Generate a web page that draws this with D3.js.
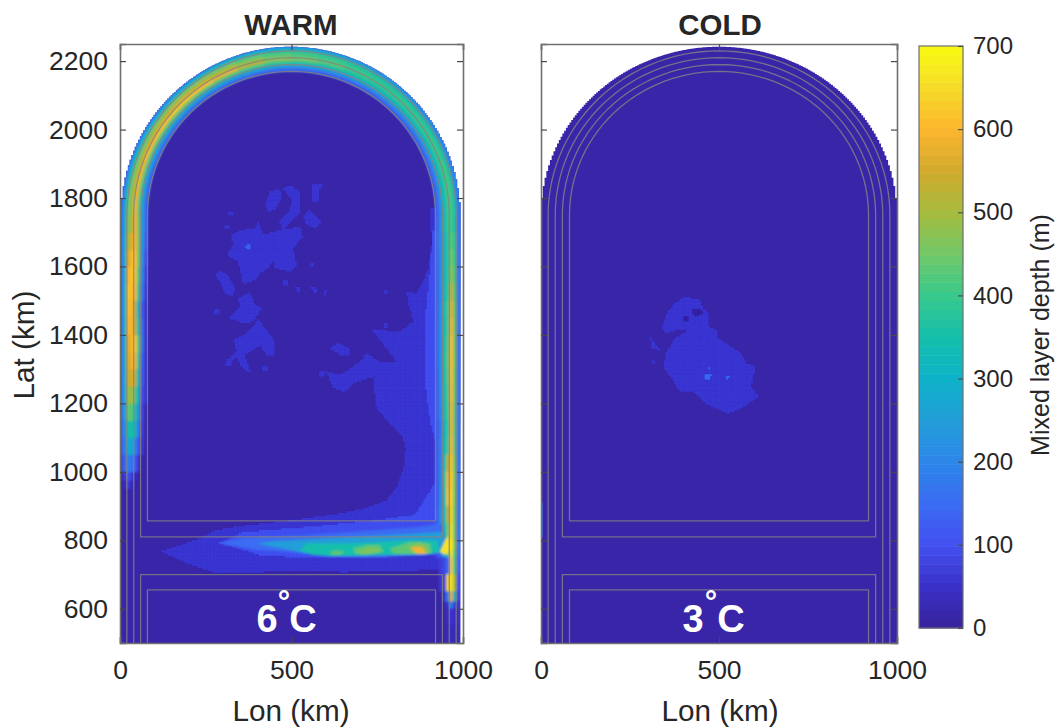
<!DOCTYPE html>
<html><head><meta charset="utf-8">
<style>html,body{margin:0;padding:0;background:#fff}svg{display:block}text{font-family:"Liberation Sans",Arial,sans-serif;fill:#262626}</style>
<script src="https://cdnjs.cloudflare.com/ajax/libs/d3/7.8.5/d3.min.js"></script>
</head><body><svg id="c" width="1057" height="728"></svg>
<script>
// ---------- chart values (km, m) ----------
const panelTitles = ["WARM", "COLD"];
const tempDigits = ["6", "3"];
const lonTicks = [0, 500, 1000];
const latTicks = [600, 800, 1000, 1200, 1400, 1600, 1800, 2000, 2200];
const depthTicks = [0, 100, 200, 300, 400, 500, 600, 700];
const colorStopValues = [0, 50, 100, 150, 200, 250, 300, 350, 400, 450, 500, 550, 600, 650, 700];
const colorStops = ["#38229c", "#3a30c8", "#4350f0", "#3a6cf2", "#2c86ea", "#229ed8", "#0eb2c8", "#14bfac", "#38c98c", "#72c868", "#a6bc3e", "#d2aa2c", "#fdb62e", "#f6dc28", "#f8fa12"];
const backgroundDepth = 12;
const patchDepth = 64;
const blueDepth = 104;
const warmWalls = [3, 992];
const coldWalls = [0, 1000];
const channelOffsets = [0, 10, 20, 30, 40, 50, 60, 70, 80, 90];
const guideRadii = [480, 460, 440, 420];
const guideUpperBottom = [null, null, 810, 857];
const guideLowerTop = [null, null, 700, 655];

const leftLats = [950,975,1000,1050,1100,1150,1200,1250,1300,1350,1400,1450,1500,1550,1600,1650,1700];
const leftRows = [
[0,40,70,30,0,0,0,0,0],
[30,70,110,70,30,0,0,0,0],
[80,150,190,170,120,60,0,0,0],
[110,200,280,280,200,110,60,0,0],
[130,230,350,360,310,170,70,0,0],
[150,270,440,430,360,220,80,0,0],
[150,290,490,500,430,280,100,60,0],
[150,300,540,560,530,310,130,60,0],
[150,310,560,590,590,370,140,60,0],
[150,310,570,600,620,410,180,60,0],
[150,320,600,600,540,340,160,60,0],
[150,320,610,600,530,290,130,60,0],
[150,320,620,610,600,370,190,70,0],
[150,310,600,620,610,410,220,80,0],
[150,310,560,610,610,450,240,100,0],
[150,300,510,570,600,450,250,130,0],
[150,290,460,520,590,450,260,150,0]];
const arcAngles = [180,170,160,150,140,130,120,110,100,90,80,70,60,50,40,30,20,10];
const arcRows = [
[150,290,440,510,590,440,270,150,0],
[150,300,440,510,590,440,270,150,0],
[150,300,440,520,600,440,270,160,0],
[150,300,450,530,610,440,280,160,0],
[150,300,450,540,620,450,280,160,0],
[150,300,450,530,610,440,280,160,0],
[150,300,440,510,580,430,280,160,0],
[150,290,420,470,530,410,270,160,0],
[150,280,400,440,480,390,260,150,0],
[150,270,390,420,460,380,250,150,0],
[150,260,380,410,430,360,240,150,0],
[150,250,370,400,400,350,240,140,0],
[150,240,360,390,390,340,230,140,0],
[150,230,360,390,390,330,230,140,0],
[150,220,360,390,390,330,230,140,0],
[150,210,360,400,390,330,230,140,0],
[150,200,360,410,390,330,230,140,0],
[150,190,360,410,400,330,230,140,0]];
const rightLats = [1750,1700,1650,1600,1550,1500,1450,1400,1350,1300,1250,1200,1150,1100,1050,1000,950,900,850,800,770,750,700,650,620,600,550];
const rightRows = [
[150,180,360,410,400,330,230,140,0],
[150,180,390,430,390,310,220,150,0],
[150,180,400,450,390,310,220,140,0],
[150,180,410,480,390,310,220,140,0],
[150,180,420,540,400,320,220,140,0],
[150,180,440,570,420,330,230,140,0],
[150,180,450,590,420,330,230,140,0],
[150,180,450,610,440,340,230,140,0],
[150,180,450,610,450,350,240,140,0],
[150,180,440,610,440,340,230,130,0],
[150,180,440,600,420,340,220,130,0],
[150,180,420,590,410,330,210,130,0],
[150,180,420,590,400,310,190,120,0],
[150,180,420,600,420,320,200,120,0],
[150,180,440,620,530,350,210,120,0],
[150,180,450,630,590,380,220,120,0],
[150,180,450,640,610,360,220,120,0],
[150,180,440,640,530,340,230,130,0],
[150,180,440,650,460,340,260,170,100],
[150,180,470,680,620,650,670,580,400],
[140,170,420,660,400,300,170,100,60],
[120,140,400,630,150,90,70,0,0],
[100,100,500,660,640,90,60,0,0],
[90,80,300,570,200,60,0,0,0],
[80,60,60,200,60,0,0,0,0],
[70,40,40,60,40,0,0,0,0],
[60,30,30,30,30,0,0,0,0]];

const warmBroad = [[121,767],[175,785],[233,806],[282,830],[379,845],[457,853],[525,862],[650,880],[720,895],[778,917],[810,960],[831,1025],[833,1070],[825,1101],[778,1151],[748,1186],[738,1264],[743,1278],[690,1264],[656,1235],[622,1244],[602,1293],[641,1283],[700,1322],[719,1346],[758,1322],[806,1322],[777,1361],[734,1415],[816,1410],[855,1439],[840,1497],[836,1526],[865,1521],[879,1546],[899,1595],[909,1672],[904,1770],[960,1770],[990,713],[942,713],[800,712],[650,707],[530,712],[408,707],[282,704],[195,733]];
const warmBlue = [[291,792],[358,824],[554,839],[749,859],[860,874],[918,967],[918,1093],[904,1151],[889,1268],[889,1443],[904,1589],[912,1706],[950,1706],[950,760],[749,751],[554,748],[408,757]];
const warmPatches = [
[[424,1779],[437,1818],[466,1828],[471,1799],[452,1765],[432,1760]],
[[476,1828],[495,1838],[525,1818],[525,1760],[510,1740],[471,1706],[466,1731],[495,1760],[500,1794]],
[[562,1838],[593,1840],[578,1818],[578,1791],[562,1789]],
[[536,1750],[554,1765],[588,1731],[568,1711],[539,1726]],
[[325,1692],[350,1706],[393,1711],[403,1731],[418,1692],[466,1706],[525,1716],[534,1687],[505,1653],[515,1604],[495,1585],[452,1595],[452,1624],[432,1595],[413,1585],[398,1565],[359,1546],[345,1614],[311,1634],[330,1663]],
[[277,1580],[296,1585],[316,1575],[335,1536],[330,1512],[306,1522],[291,1556]],
[[316,1449],[350,1483],[345,1507],[379,1526],[393,1488],[413,1478],[389,1439],[359,1434],[335,1444]],
[[330,1385],[369,1405],[403,1444],[427,1415],[452,1380],[452,1342],[427,1342],[408,1371],[379,1351],[364,1342],[384,1283],[350,1312],[340,1337],[306,1308],[311,1327],[340,1351],[335,1371]],
[[510,1541],[529,1536],[520,1522]],
[[554,1541],[578,1536],[568,1519]],
[[593,1531],[607,1531],[597,1515]],
[[612,1361],[636,1376],[670,1361],[670,1342],[641,1342]],
[[555,1610],[567,1610],[567,1598],[555,1598]],
[[476,1558],[490,1558],[490,1545],[476,1545]],
[[275,1475],[288,1475],[288,1462],[275,1462]],
[[315,1760],[328,1760],[328,1748],[315,1748]],
[[305,1720],[318,1720],[318,1708],[305,1708]],
[[415,1308],[428,1308],[428,1296],[415,1296]],
[[310,1325],[325,1325],[325,1312],[310,1312]],
[[590,1300],[600,1290],[590,1275],[580,1285]],
[[770,1435],[782,1435],[782,1422],[770,1422]],
[[768,1530],[780,1530],[780,1519],[768,1519]]];
const warmSpot = [[366,1662],[380,1666],[382,1652],[370,1650]];
const jetValues = [150, 250, 350, 430, 430, 430, 465, 465, 590, 660];
const jetPolygons = [
[[286,792],[358,807],[525,815],[670,824],[866,839],[941,850],[953,763],[895,757],[767,751],[612,751],[525,763],[399,772]],
[[399,791],[457,798],[525,802],[671,810],[865,820],[943,825],[948,766],[894,759],[671,754],[544,760],[476,776]],
[[525,771],[544,791],[671,791],[846,800],[923,800],[933,766],[885,759],[768,757],[622,754],[564,757]],
[[612,766],[632,771],[656,766],[642,757],[617,757]],
[[680,776],[719,786],[758,786],[768,766],[719,757],[685,761]],
[[787,776],[846,796],[904,791],[909,761],[855,759],[797,761]],
[[690,766],[729,779],[753,776],[758,766],[709,761]],
[[836,781],[875,796],[899,781],[899,761],[855,763]],
[[846,779],[880,781],[894,761],[865,761]],
[[933,766],[948,800],[959,815],[959,761],[943,760]]];

const coldPatches = [
[[339,1419],[353,1463],[376,1492],[400,1511],[446,1502],[456,1477],[470,1463],[470,1424],[493,1414],[498,1390],[563,1346],[577,1317],[601,1307],[591,1249],[610,1219],[563,1185],[526,1171],[470,1195],[428,1234],[390,1234],[371,1268],[343,1307],[353,1351],[376,1390],[414,1414],[376,1414],[353,1404]],
[[306,1395],[320,1375],[334,1356],[311,1361]],
[[311,1322],[322,1331],[318,1312]]];
const coldHoles = [[[400,1453],[415,1458],[414,1439],[402,1439]],[[423,1472],[446,1477],[456,1463],[432,1453]]];
const coldSpots = [[[458,1283],[479,1283],[474,1270],[460,1270]],[[467,1307],[479,1305],[472,1297]],[[518,1278],[528,1278],[521,1268]]];
const coldStreak = [[0,809],[6,809],[6,909],[0,909]];

// ---------- layout ----------
const panels = [
  {xr:[120,463], walls:warmWalls, title:panelTitles[0], digit:tempDigits[0], showLat:true, cx:291, digitX:267, ringX:284, cX:303},
  {xr:[541,897], walls:coldWalls, title:panelTitles[1], digit:tempDigits[1], showLat:false, cx:720, digitX:693, ringX:711, cX:731}
];
const yTop = 44, yBot = 643;
const y = d3.scaleLinear().domain([500,2250]).range([yBot,yTop]);
const depthColor = d3.scaleLinear().domain(colorStopValues).range(colorStops).interpolate(d3.interpolateRgb).clamp(true);
const svg = d3.select("#c");
const defs = svg.append("defs");
defs.append("filter").attr("id","soft").attr("x","-10%").attr("y","-10%").attr("width","120%").attr("height","120%")
  .append("feGaussianBlur").attr("stdDeviation",0.85);
defs.append("filter").attr("id","softer").attr("x","-10%").attr("y","-10%").attr("width","120%").attr("height","120%")
  .append("feGaussianBlur").attr("stdDeviation",0.35);

const CENTER = [500,1750];
const deg = Math.PI/180;
const GRID = 5;

panels.forEach((p,pi)=>{
  const x = d3.scaleLinear().domain([0,1000]).range(p.xr);
  const line = d3.line().x(d=>x(d[0])).y(d=>y(d[1]));
  const closed = pts => line(pts)+"Z";
  const g = svg.append("g");

  const clipId = "dom"+pi;
  const [w0,w1] = p.walls, mid=(w0+w1)/2, rx=(w1-w0)/2, ry=492;
  const outline=[[w0,500]];
  d3.range(w0,w1,GRID).forEach(l=>{
    const t=Math.max(0,1-Math.pow((l+GRID/2-mid)/rx,2));
    const top=CENTER[1]+ry*Math.sqrt(t);
    outline.push([l,top],[l+GRID,top]);
  });
  outline.push([w1,500]);
  defs.append("clipPath").attr("id",clipId).append("path").attr("d",closed(outline));
  const raster = g.append("g").attr("clip-path",`url(#${clipId})`);
  raster.append("rect").attr("x",p.xr[0]).attr("y",yTop).attr("width",p.xr[1]-p.xr[0]).attr("height",yBot-yTop).attr("fill",depthColor(backgroundDepth));

  const soft = raster.append("g").attr("filter","url(#softer)");
  const poly = (sel,pts,v)=>{
    const xs=pts.map(d=>d[0]), ys=pts.map(d=>d[1]);
    let d="";
    const lon0=Math.floor(d3.min(xs)/GRID)*GRID, lat0=Math.floor(d3.min(ys)/GRID)*GRID;
    d3.range(lon0,d3.max(xs),GRID).forEach(a=>{
      d3.range(lat0,d3.max(ys),GRID).forEach(b=>{
        if(d3.polygonContains(pts,[a+GRID/2,b+GRID/2]))
          d+=`M${x(a).toFixed(2)},${y(b+GRID).toFixed(2)}H${x(a+GRID).toFixed(2)}V${y(b).toFixed(2)}H${x(a).toFixed(2)}Z`;
      });
    });
    sel.append("path").attr("d",d).attr("fill",depthColor(v)).attr("stroke",depthColor(v)).attr("stroke-width",.15);
  };

  if(pi===0){
    poly(soft,warmBroad,patchDepth);
    warmPatches.forEach(q=>poly(soft,q,patchDepth));
    poly(soft,warmSpot,blueDepth+40);
    poly(soft,warmBlue,blueDepth);
    const band = raster.append("g").attr("filter","url(#soft)");
    const cell=(pts,v)=>{ if(v>0) band.append("path").attr("d",closed(pts)).attr("fill",depthColor(v)).attr("stroke",depthColor(v)).attr("stroke-width",.6); };
    const cols=d3.range(channelOffsets.length-1);
    leftRows.forEach((r,i)=>{
      const a=leftLats[i], b=i+1<leftLats.length?leftLats[i+1]:CENTER[1];
      cols.forEach(c=>cell([[channelOffsets[c],a],[channelOffsets[c+1],a],[channelOffsets[c+1],b],[channelOffsets[c],b]],r[c]));
    });
    arcRows.forEach((r,i)=>{
      const a=arcAngles[i];
      cols.forEach(c=>{
        const ro=500-channelOffsets[c], ri=500-channelOffsets[c+1], pts=[];
        d3.range(a,a-10.01,-2).forEach(t=>pts.push([CENTER[0]+ro*Math.cos(t*deg),CENTER[1]+ro*Math.sin(t*deg)]));
        d3.range(a-10,a+.01,2).forEach(t=>pts.push([CENTER[0]+ri*Math.cos(t*deg),CENTER[1]+ri*Math.sin(t*deg)]));
        cell(pts,r[c]);
      });
    });
    rightRows.forEach((r,i)=>{
      const a=rightLats[i], b=i+1<rightLats.length?rightLats[i+1]:500;
      cols.forEach(c=>cell([[1000-channelOffsets[c],a],[1000-channelOffsets[c+1],a],[1000-channelOffsets[c+1],b],[1000-channelOffsets[c],b]],r[c]));
    });
    jetPolygons.forEach((q,i)=>{ band.append("path").attr("d",closed(q)).attr("fill",depthColor(jetValues[i])); });
  } else {
    poly(soft,coldStreak,blueDepth+50);
    coldPatches.forEach(q=>poly(soft,q,patchDepth));
    coldHoles.forEach(q=>poly(soft,q,backgroundDepth));
    coldSpots.forEach(q=>poly(soft,q,blueDepth+50));
  }

  // guide contours
  const guides = g.append("g").attr("fill","none").attr("stroke","#858585").attr("stroke-opacity",.8).attr("stroke-width",1.3).attr("stroke-linejoin","round");
  guideRadii.forEach((r,i)=>{
    const arc=d3.range(180,-.01,-3).map(t=>[CENTER[0]+r*Math.cos(t*deg),CENTER[1]+r*Math.sin(t*deg)]);
    const lo=CENTER[0]-r, hi=CENTER[0]+r;
    if(guideUpperBottom[i]===null){
      guides.append("path").attr("d",line([[lo,500],...arc,[hi,500]]));
    } else {
      guides.append("path").attr("d",closed([[lo,guideUpperBottom[i]],...arc,[hi,guideUpperBottom[i]]]));
      guides.append("path").attr("d",line([[lo,500],[lo,guideLowerTop[i]],[hi,guideLowerTop[i]],[hi,500]]));
    }
  });

  // axes
  const styleAxis = s=>{
    s.selectAll(".domain").attr("stroke","#707070").attr("stroke-width",1.6);
    s.selectAll(".tick line").attr("stroke","#4a4a4a").attr("stroke-width",1.2);
    s.selectAll("text").attr("fill","#262626").style("font-size","26.5px").style("font-family",'"Liberation Sans",Arial,sans-serif');
  };
  g.append("g").attr("transform",`translate(0,${yBot})`).call(d3.axisBottom(x).tickValues(lonTicks).tickSizeOuter(0).tickSize(-6).tickPadding(17).tickFormat(d3.format("d"))).call(styleAxis);
  g.append("g").attr("transform",`translate(0,${yTop})`).call(d3.axisTop(x).tickValues(lonTicks).tickSizeOuter(0).tickSize(-6).tickFormat("")).call(styleAxis);
  g.append("g").attr("transform",`translate(${p.xr[0]},0)`).call(d3.axisLeft(y).tickValues(latTicks).tickSizeOuter(0).tickSize(-6).tickPadding(12).tickFormat(p.showLat?d3.format("d"):"")).call(styleAxis);
  g.append("g").attr("transform",`translate(${p.xr[1]},0)`).call(d3.axisRight(y).tickValues(latTicks).tickSizeOuter(0).tickSize(-6).tickFormat("")).call(styleAxis);

  // text
  g.append("text").attr("x",p.cx).attr("y",35).attr("text-anchor","middle").attr("font-weight","bold").attr("font-size",29.5).text(p.title);
  g.append("text").attr("x",p.cx).attr("y",721).attr("text-anchor","middle").attr("font-size",29.7).text("Lon (km)");
  g.append("text").attr("x",p.digitX).attr("y",632).attr("text-anchor","middle").attr("font-weight","bold").attr("font-size",38).style("fill","#fff").text(p.digit);
  g.append("text").attr("x",p.ringX).attr("y",612).attr("text-anchor","middle").attr("font-weight","bold").attr("font-size",31).style("fill","#fff").text("°");
  g.append("text").attr("x",p.cX).attr("y",632).attr("text-anchor","middle").attr("font-weight","bold").attr("font-size",38).style("fill","#fff").text("C");
});

svg.append("text").attr("transform","translate(34,345) rotate(-90)").attr("text-anchor","middle").attr("font-size",29.7).text("Lat (km)");

// colour bar
const cbX=919, cbW=44, cbTop=46, cbBot=628;
const cbY=d3.scaleLinear().domain([0,700]).range([cbBot,cbTop]);
const cb=svg.append("g");
const levels=d3.range(64);
cb.selectAll("rect").data(levels).join("rect")
  .attr("x",cbX).attr("width",cbW)
  .attr("y",i=>cbY((i+1)*700/64)).attr("height",i=>cbY(i*700/64)-cbY((i+1)*700/64)+.5)
  .attr("fill",i=>depthColor((i+.5)*700/64));
cb.append("rect").attr("x",cbX).attr("y",cbTop).attr("width",cbW).attr("height",cbBot-cbTop).attr("fill","none").attr("stroke","#6e6e6e").attr("stroke-width",1.2);
const cbAxis=cb.append("g").attr("transform",`translate(${cbX+cbW},0)`).call(d3.axisRight(cbY).tickValues(depthTicks).tickSizeOuter(0).tickSize(-5).tickPadding(10));
cbAxis.select(".domain").remove();
cbAxis.selectAll(".tick line").attr("stroke","#4a4a4a").attr("stroke-width",1.1);
cbAxis.selectAll("text").attr("fill","#262626").style("font-size","24px").style("font-family",'"Liberation Sans",Arial,sans-serif');
svg.append("text").attr("transform","translate(1049,335) rotate(-90)").attr("text-anchor","middle").attr("font-size",25).text("Mixed layer depth (m)");
</script></body></html>
